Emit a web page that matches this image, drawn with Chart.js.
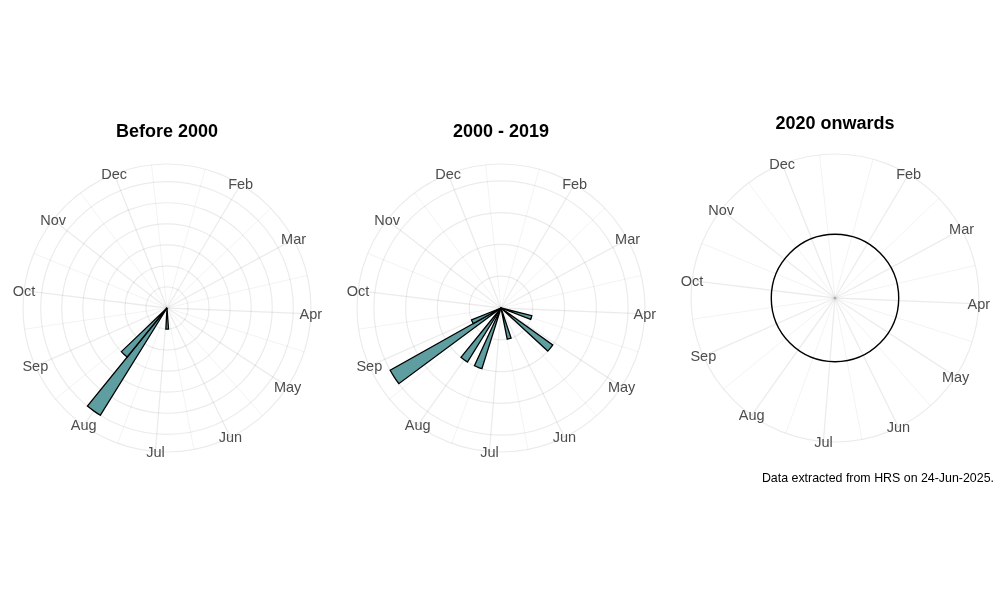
<!DOCTYPE html>
<html>
<head>
<meta charset="utf-8">
<script src="https://cdn.jsdelivr.net/npm/chart.js@4/dist/chart.umd.min.js"></script>
<style>
  html, body { margin: 0; padding: 0; background: #fff; overflow: hidden; }
  .panel { position: absolute; top: 0; width: 334px; height: 600px; }
  #caption {
    position: absolute; right: 6px; top: 471px;
    font: 12.4px 'Liberation Sans', Arial, sans-serif; line-height: 14px; color: #000;
  }
</style>
</head>
<body>
<div class="panel" style="left:0px"><canvas id="chart1"></canvas></div>
<div class="panel" style="left:334px"><canvas id="chart2"></canvas></div>
<div class="panel" style="left:668px"><canvas id="chart3"></canvas></div>
<div id="caption">Data extracted from HRS on 24-Jun-2025.</div>
<script>
'use strict';

// month axis: 11.7 months around the circle, 10 grid steps per month
const monthNames = ['Jan', 'Feb', 'Mar', 'Apr', 'May', 'Jun', 'Jul', 'Aug', 'Sep', 'Oct', 'Nov', 'Dec'];
const stepsPerMonth = 10;
const gridSteps = 117;

const panelTitles = ['Before 2000', '2000 - 2019', '2020 onwards'];

// counts per weekly bin (50 bins around the circle)
const countsBefore2000 = [
  0, 0, 0, 0, 0, 0, 0, 0, 0, 0,
  0, 0, 0, 0, 0, 0, 0, 0, 0, 0,
  0, 0, 0, 0, 1, 0, 0, 0, 0, 6,
  3, 0, 0, 0, 0, 0, 0, 0, 0, 0,
  0, 0, 0, 0, 0, 0, 0, 0, 0, 0
];
const counts2000to2019 = [
  0, 0, 0, 0, 0, 0, 0, 0, 0, 0,
  0, 0, 0, 0, 1, 0, 0, 2, 0, 0,
  0, 0, 1, 0, 0, 0, 0, 2, 0, 2,
  0, 0, 4, 1, 0, 0, 0, 0, 0, 0,
  0, 0, 0, 0, 0, 0, 0, 0, 0, 0
];
const counts2020on = [];

// radial tick values (last one is the outer edge of each panel)
const rTicks1 = [0, 1, 2, 3, 4, 5, 6, 6.84];
const rTicks2 = [0, 1, 2, 3, 4, 4.53];
const rTicks3 = [0, 1, 2.26];
const ring2020 = [1];

const gridColor = 'rgba(0,0,0,0.08)';

// the labels array sets the angular grid; Jan sits at the very start and is not shown
function getGridLabels() {
  let labels = [];
  for (let i = 0; i < gridSteps; i++) {
    labels.push('');
  }
  for (let m = 1; m < monthNames.length; m++) {
    labels[m * stepsPerMonth - 1] = monthNames[m];
  }
  return labels;
}

function angleLineWidth(index) {
  let step = (index + 1) % stepsPerMonth;
  if (step === 0 && index !== gridSteps - 1) return 1.3;
  if (step === stepsPerMonth / 2) return 0.7;
  return 0;
}

const monthLabels = {
  id: 'monthLabels',
  afterDraw(chart) {
    const scale = chart.scales.r;
    const ctx = chart.ctx;
    ctx.save();
    ctx.font = '14.5px "Liberation Sans", Arial, sans-serif';
    ctx.fillStyle = '#4d4d4d';
    ctx.textAlign = 'center';
    ctx.textBaseline = 'middle';
    chart.data.labels.forEach((label, i) => {
      if (!label) return;
      let p = scale.getPointPosition(i, scale.drawingArea);
      ctx.fillText(label, p.x, p.y + 1);
    });
    ctx.restore();
  }
};

function makeChart(id, title, counts, ticks, titleTop, titleBottom, bottomPad, ring) {
  const outer = ticks[ticks.length - 1];
  new Chart(document.getElementById(id), {
    type: 'polarArea',
    data: {
      labels: getGridLabels(),
      datasets: [{
        data: counts,
        backgroundColor: '#5f9ea0',
        borderColor: '#000',
        borderWidth: c => (c.raw > 0 ? 1.3 : 0),
        borderJoinStyle: 'miter'
      }]
    },
    options: {
      responsive: true,
      maintainAspectRatio: false,
      animation: false,
      layout: { padding: { left: 23, right: 23, top: 0, bottom: bottomPad } },
      plugins: {
        legend: { display: false },
        tooltip: { enabled: false },
        title: {
          display: true,
          text: title,
          color: '#000',
          font: { family: "'Liberation Sans', Arial, sans-serif", size: 18, weight: 'bold' },
          padding: { top: titleTop, bottom: titleBottom }
        }
      },
      scales: {
        r: {
          min: 0,
          max: outer,
          startAngle: 360 / gridSteps,
          afterBuildTicks: s => { s.ticks = ticks.map(v => ({ value: v })); },
          ticks: { display: false },
          grid: {
            circular: true,
            color: c => {
              if (!ring) return gridColor;
              if (c.tick && c.tick.value === ring[0]) return '#000';
              return c.tick && c.tick.value === outer ? gridColor : 'rgba(0,0,0,0)';
            },
            lineWidth: c => (ring && c.tick && c.tick.value === ring[0] ? 1.4 : 1.2)
          },
          angleLines: {
            display: true,
            color: gridColor,
            lineWidth: c => angleLineWidth(c.index)
          },
          pointLabels: { display: false }
        }
      }
    },
    plugins: [monthLabels]
  });
}

makeChart('chart1', panelTitles[0], countsBefore2000, rTicks1, 121.2, 21.7, 147.5, null);
makeChart('chart2', panelTitles[1], counts2000to2019, rTicks2, 121.2, 21.7, 147.5, null);
makeChart('chart3', panelTitles[2], counts2020on, rTicks3, 113.2, 19.7, 157.5, ring2020);
</script>
</body>
</html>
